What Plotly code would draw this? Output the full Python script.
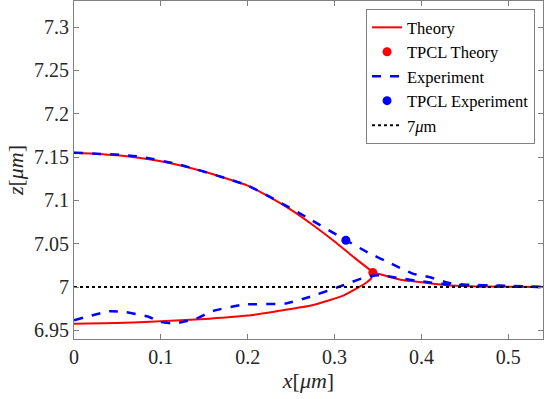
import plotly.graph_objects as go

# theory profile: upper branch, tail to the right, lower branch
theory_up_x = [0, 0.05, 0.1, 0.15, 0.2, 0.225, 0.25, 0.275, 0.3, 0.322, 0.345]
theory_up_z = [7.155, 7.152, 7.145, 7.133, 7.117, 7.104, 7.089, 7.0715, 7.0525, 7.0345, 7.0165]
theory_tail_x = [0.345, 0.357, 0.378, 0.4, 0.43, 0.47, 0.54]
theory_tail_z = [7.0165, 7.0135, 7.008, 7.0055, 7.002, 7.0005, 7.0]
theory_low_x = [0, 0.05, 0.1, 0.156, 0.2, 0.233, 0.27, 0.294, 0.31, 0.325, 0.335, 0.342, 0.345]
theory_low_z = [6.9577, 6.9585, 6.9605, 6.9635, 6.967, 6.972, 6.978, 6.9847, 6.990, 6.998, 7.004, 7.0097, 7.0165]

# experiment profile
exp_up_x = [0, 0.072, 0.122, 0.2, 0.267, 0.313, 0.34, 0.363, 0.39, 0.409, 0.432, 0.451, 0.49, 0.54]
exp_up_z = [7.155, 7.151, 7.141, 7.117, 7.081, 7.054, 7.039, 7.028, 7.0154, 7.0115, 7.0046, 7.0027, 7.0016, 7.0]
exp_low_x = [0, 0.041, 0.059, 0.085, 0.099, 0.116, 0.141, 0.16, 0.195, 0.244, 0.271, 0.31, 0.336, 0.352, 0.37, 0.4, 0.43, 0.47, 0.54]
exp_low_z = [6.9616, 6.972, 6.971, 6.966, 6.9597, 6.958, 6.9635, 6.9723, 6.9797, 6.981, 6.9885, 7.002, 7.0115, 7.0135, 7.011, 7.0065, 7.003, 7.001, 7.0]

# contact points
tpcl_theory = (0.344, 7.0168)
tpcl_exp = (0.313, 7.0539)

ref_x = [0, 0.54]
ref_z = [7.0, 7.0]

xticks = [0, 0.1, 0.2, 0.3, 0.4, 0.5]
xticklabels = ["0", "0.1", "0.2", "0.3", "0.4", "0.5"]
yticks = [6.95, 7.0, 7.05, 7.1, 7.15, 7.2, 7.25, 7.3]
yticklabels = ["6.95", "7", "7.05", "7.1", "7.15", "7.2", "7.25", "7.3"]

red = "#ff0000"
blue = "#0000ff"
serif = "Liberation Serif"

fig = go.Figure()

# theory as one trace with gaps between pieces
tx = theory_up_x + [None] + theory_tail_x + [None] + theory_low_x
tz = theory_up_z + [None] + theory_tail_z + [None] + theory_low_z
fig.add_trace(go.Scatter(x=tx, y=tz, mode="lines", name="Theory",
                         line=dict(color=red, width=2, shape="spline", smoothing=0.5)))
fig.add_trace(go.Scatter(x=[tpcl_theory[0]], y=[tpcl_theory[1]], mode="markers",
                         name="TPCL Theory", marker=dict(color=red, size=9)))

ex = exp_up_x + [None] + exp_low_x
ez = exp_up_z + [None] + exp_low_z
fig.add_trace(go.Scatter(x=ex, y=ez, mode="lines", name="Experiment",
                         line=dict(color=blue, width=2.5, dash="dash", shape="spline", smoothing=0.5)))
fig.add_trace(go.Scatter(x=[tpcl_exp[0]], y=[tpcl_exp[1]], mode="markers",
                         name="TPCL Experiment", marker=dict(color=blue, size=9)))

fig.add_trace(go.Scatter(x=ref_x, y=ref_z, mode="lines", name="7<i>μ</i>m",
                         line=dict(color="black", width=2, dash="dot")))

axis_common = dict(showgrid=False, zeroline=False, showline=True, linecolor="#808080",
                   linewidth=1, mirror="ticks", ticks="inside", ticklen=5,
                   tickcolor="#808080", automargin=False,
                   tickfont=dict(family=serif, size=20, color="#262626"))

fig.update_xaxes(range=[0, 0.54], tickvals=xticks, ticktext=xticklabels,
                 title=dict(text="<i>x</i>[<i>μm</i>]", font=dict(family=serif, size=22, color="#262626"), standoff=4),
                 **axis_common)
fig.update_yaxes(range=[6.94, 7.33], tickvals=yticks, ticktext=yticklabels,
                 title=dict(text="<i>z</i>[<i>μm</i>]", font=dict(family=serif, size=22, color="#262626"), standoff=4),
                 **axis_common)

fig.update_layout(
    width=547, height=399,
    margin=dict(l=74, r=4, t=1, b=60),
    plot_bgcolor="white", paper_bgcolor="white",
    font=dict(family=serif, color="#262626"),
    legend=dict(x=0.983, y=0.976, xanchor="right", yanchor="top",
                bgcolor="white", bordercolor="#808080", borderwidth=1,
                font=dict(family=serif, size=16.5, color="#000000"), tracegroupgap=0),
)

# page body has a default 8px margin; drop it so the figure sits at the corner
fig.write_html("out.html", config={"displayModeBar": False},
               post_script="document.body.style.margin='0';")
